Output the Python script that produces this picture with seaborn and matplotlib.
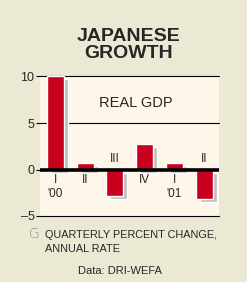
import pandas as pd
import matplotlib.pyplot as plt
from matplotlib import transforms
from matplotlib import font_manager
plt.switch_backend('Agg')
import seaborn as sns

# Data
quarters = ["I '00", "II '00", "III '00", "IV '00", "I '01", "II '01"]
quarter_labels = ["I\n'00", "II", "III", "IV", "I\n'01", "II"]
growth = [10.0, 0.7, -2.8, 2.7, 0.7, -3.2]
y_ticks = [-5, 0, 5, 10]

df = pd.DataFrame({"quarter": quarters, "growth": growth})

sns.set_style("white")
names = {f.name for f in font_manager.fontManager.ttflist}
narrow = "Liberation Sans Narrow" if "Liberation Sans Narrow" in names else "Liberation Sans"
plt.rcParams['font.family'] = [narrow, 'DejaVu Sans']

fig = plt.figure(figsize=(2.47, 2.82), dpi=100)
fig.patch.set_facecolor("#EBE9D4")
ax = fig.add_axes([40 / 247, 1 - 216 / 282, 179 / 247, 139.5 / 282])
ax.set_facecolor("#FEF6E9")

# shadow bars, then the red bars on top
sns.barplot(data=df, x="quarter", y="growth", color="#BEBEBE", saturation=1,
            width=0.57, ax=ax, zorder=2)
shift = transforms.ScaledTranslation(4 / 100, -3 / 100, fig.dpi_scale_trans)
for p in ax.patches:
    p.set_transform(ax.transData + shift)
sns.barplot(data=df, x="quarter", y="growth", color="#C8001E", saturation=1,
            width=0.57, ax=ax, zorder=3)

for y in [10, 5, -5]:
    ax.axhline(y, color="black", lw=0.8, zorder=1, clip_on=False)
ax.axhline(0, color="black", lw=2.6, zorder=4)

ax.set_ylim(-5, 10)
ax.set_xlim(-0.52, 5.5)
ax.set_yticks(y_ticks)
ax.set_yticklabels([str(t) if t >= 0 else "\u2013" + str(-t) for t in y_ticks])
ax.set_xticks([])
ax.set_xlabel("")
ax.set_ylabel("")
ax.tick_params(axis="y", left=True, length=3, width=0.8, color="black",
               pad=1, labelsize=9)
for s in ax.spines.values():
    s.set_visible(False)

for i, (lab, v) in enumerate(zip(quarter_labels, growth)):
    if v >= 0:
        ax.text(i, -0.45, lab, ha="center", va="top", fontsize=8.5,
                linespacing=1.25, zorder=5)
    else:
        ax.text(i, 0.45, lab, ha="center", va="bottom", fontsize=8.5, zorder=5)

ax.text(2.7, 7.1, "REAL GDP", ha="center", va="center", fontsize=10.5)

fig.text(129 / 247, 1 - 45 / 282, "JAPANESE\nGROWTH", ha="center", va="center",
         fontsize=14, fontweight="bold", linespacing=0.95)
fig.text(29 / 247, 1 - 234 / 282, "G", ha="left", va="center", fontsize=10,
         color="#8A8A8A", family="DejaVu Sans", fontweight="light")
fig.text(45 / 247, 1 - 242 / 282, "QUARTERLY PERCENT CHANGE,\nANNUAL RATE",
         ha="left", va="center", fontsize=7.8, linespacing=1.4)
fig.text(119.5 / 247, 1 - 271 / 282, "Data: DRI-WEFA", ha="center", va="center",
         fontsize=8)

fig.savefig("out.png", dpi=100, facecolor=fig.get_facecolor())
